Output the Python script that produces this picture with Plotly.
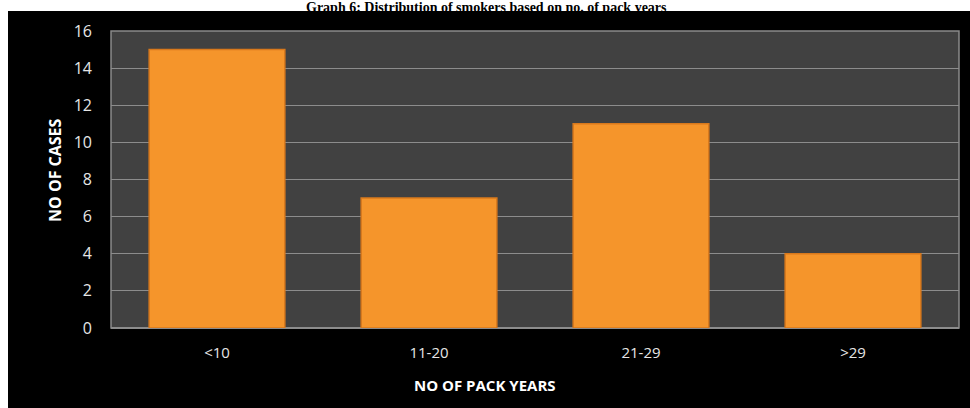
import plotly.graph_objects as go

# Pack-year groups and number of smokers in each
pack_years = ["<10", "11-20", "21-29", ">29"]
cases = [15, 7, 11, 4]
y_ticks = [0, 2, 4, 6, 8, 10, 12, 14, 16]

W, H = 970, 408
L, R, T, B = 111, 11, 31, 80
plot_w = W - L - R
plot_h = H - T - B


def px_x(px):
    return (px - L) / plot_w


def px_y(py):
    return (H - B - py) / plot_h


fig = go.Figure()
fig.add_trace(go.Bar(
    x=pack_years,
    y=cases,
    width=0.64,
    marker=dict(color="#F5952B", line=dict(color="#D9791C", width=1.5)),
    hoverinfo="x+y",
))

fig.update_layout(
    width=W,
    height=H,
    margin=dict(l=L, r=R, t=T, b=B),
    paper_bgcolor="white",
    plot_bgcolor="#414141",
    showlegend=False,
    font=dict(family="Open Sans, Lato, sans-serif", color="#E6E6E6", size=15),
    shapes=[
        # black chart background
        dict(type="rect", xref="paper", yref="paper",
             x0=px_x(8), x1=px_x(972), y0=px_y(410), y1=px_y(11),
             fillcolor="black", line=dict(width=0), layer="below"),
        # dark grey plot area with frame
        dict(type="rect", xref="paper", yref="paper",
             x0=0, x1=1, y0=0, y1=1,
             fillcolor="#414141",
             line=dict(color="#8a8a8a", width=1.5), layer="below"),
    ],
    annotations=[
        dict(text="<b>Graph 6: Distribution of smokers based on no. of pack years</b>",
             xref="paper", yref="paper", x=px_x(486), y=px_y(-2),
             xanchor="center", yanchor="top", showarrow=False,
             font=dict(family="Liberation Serif, Times New Roman, serif", size=14, color="black")),
        dict(text="<b>NO OF CASES</b>", textangle=-90,
             xref="paper", yref="paper", x=px_x(55), y=px_y(170),
             xanchor="center", yanchor="middle", showarrow=False,
             font=dict(size=16, color="white")),
        dict(text="<b>NO OF PACK YEARS</b>",
             xref="paper", yref="paper", x=px_x(485), y=px_y(385),
             xanchor="center", yanchor="middle", showarrow=False,
             font=dict(size=15, color="white")),
    ],
)

fig.update_xaxes(
    showgrid=False, showline=False, ticks="", tickfont=dict(size=15),
    ticklabelstandoff=14,
)
fig.update_yaxes(
    range=[0, 16], tickvals=y_ticks, showgrid=True, gridcolor="#8c8c8c", gridwidth=1.2,
    zeroline=True, zerolinecolor="#8c8c8c", zerolinewidth=1.5,
    showline=False, ticks="", tickfont=dict(size=16), ticklabelstandoff=18,
)

fig.write_html("out.html")
